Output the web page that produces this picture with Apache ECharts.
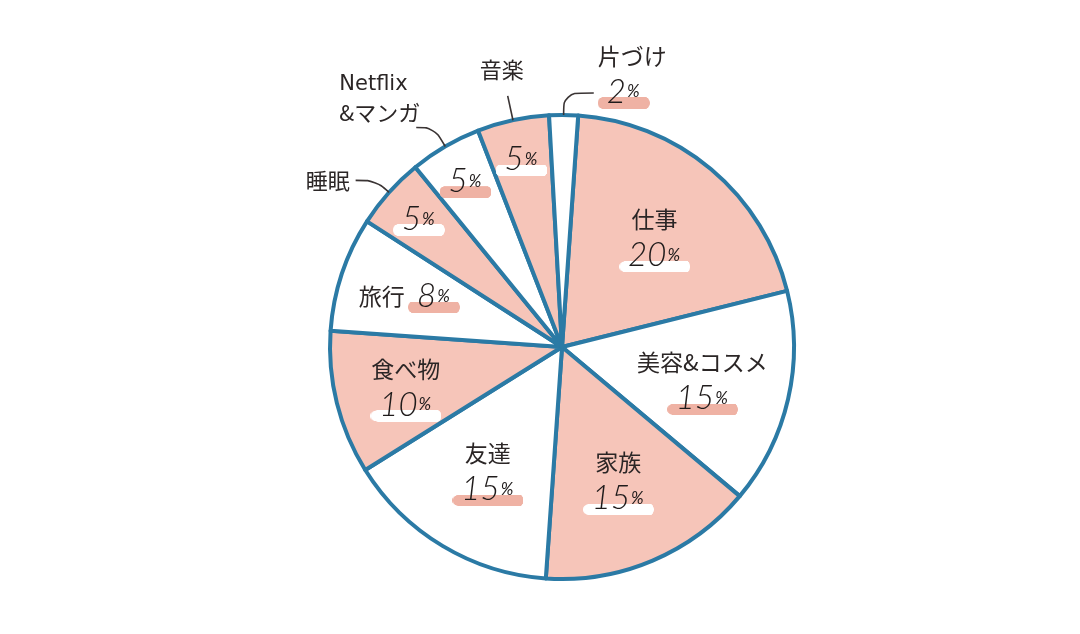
<!DOCTYPE html>
<html>
<head>
<meta charset="utf-8">
<script src="https://cdn.jsdelivr.net/npm/echarts@6/dist/echarts.min.js"></script>
<style>html,body{margin:0;padding:0;background:#fff}#chart{width:1080px;height:634px}</style>
</head>
<body>
<div id="chart"></div>
<script>
// ---- data ----
const categories = ['仕事', '美容&コスメ', '家族', '友達', '食べ物', '旅行', '睡眠', 'Netflix\n&マンガ', '音楽', '片づけ'];
const values = [20, 15, 15, 15, 10, 8, 5, 5, 5, 2];
const pinkSlices = ['仕事', '家族', '食べ物', '睡眠', '音楽'];
const bigInside = ['仕事', '美容&コスメ', '家族', '友達'];
const midInside = ['食べ物', '旅行'];
const smallInside = ['睡眠', 'Netflix\n&マンガ', '音楽'];

// ---- styles ----
const PINK = '#f6c5b9';
const BAR_PINK = '#efb2a4';
const BLUE = '#2b7aa5';
const INK = '#2b2626';
const JP = 'Noto Sans CJK JP';

// tall, narrow canvas so its aspect ratio never widens a text token
function barCanvas(color, side) {
  const c = document.createElement('canvas');
  c.width = 40; c.height = 340;
  const g = c.getContext('2d');
  g.fillStyle = color;
  const top = 224, h = 112, ry = h / 2, rx = 6;
  g.beginPath();
  if (side === 'l') {
    g.ellipse(rx, top + ry, rx, ry, 0, Math.PI / 2, Math.PI * 1.5);
    g.lineTo(40, top); g.lineTo(40, top + h); g.closePath();
  } else {
    g.ellipse(40 - rx, top + ry, rx, ry, 0, -Math.PI / 2, Math.PI / 2);
    g.lineTo(0, top + h); g.lineTo(0, top); g.closePath();
  }
  g.fill();
  return c;
}
const bars = {
  wl: barCanvas('#ffffff', 'l'), wr: barCanvas('#ffffff', 'r'),
  pl: barCanvas(BAR_PINK, 'l'), pr: barCanvas(BAR_PINK, 'r')
};
const numBase = { fontFamily: 'Lato', fontStyle: 'italic', fontWeight: 300, fontSize: 33, color: '#1f1b1b', height: 34 };
const pcBase = { fontFamily: 'Lato', fontStyle: 'italic', fontWeight: 400, fontSize: 17, color: '#1f1b1b', height: 34 };
const rich = {
  n: { fontFamily: JP, fontWeight: 400, fontSize: 23, color: INK, lineHeight: 38 },
  nl: { fontFamily: JP, fontWeight: 400, fontSize: 22, color: INK, lineHeight: 28, align: 'left' },
  en: { fontFamily: 'DejaVu Sans', fontWeight: 400, fontSize: 21, color: INK, lineHeight: 28, align: 'left' },
  pw: Object.assign({}, numBase, { padding: [0, 1, 0, 9], backgroundColor: { image: bars.wl } }),
  cw: Object.assign({}, pcBase, { padding: [0, 10, 0, 0], backgroundColor: { image: bars.wr } }),
  pp: Object.assign({}, numBase, { padding: [0, 1, 0, 9], backgroundColor: { image: bars.pl } }),
  cp: Object.assign({}, pcBase, { padding: [0, 10, 0, 0], backgroundColor: { image: bars.pr } })
};
function pct(name, v) {
  const pink = pinkSlices.includes(name);
  return pink ? `{pw|${v}}{cw|%}` : `{pp|${v}}{cp|%}`;
}

const center = [562, 347];
const R = 232;

const mainData = categories.map((c, i) => ({
  name: c, value: values[i],
  itemStyle: { color: pinkSlices.includes(c) ? PINK : '#ffffff' }
}));

function insideData(list) {
  return categories.map((c, i) => {
    const show = list.includes(c);
    let fmt = '';
    if (show) {
      if (c === '旅行') fmt = `{n|${c}} ${pct(c, values[i])}`;
      else if (smallInside.includes(c)) fmt = pct(c, values[i]);
      else fmt = `{n|${c}}\n${pct(c, values[i])}`;
    }
    return { name: c, value: values[i], label: { show: show, formatter: fmt } };
  });
}

const outsideCfg = {
  '片づけ': { len: 22, len2: 30, dist: 4, pad: [0, 0, 40, 0], fmt: (v) => `{n|片づけ}\n{pp|${v}}{cp|%}` },
  '音楽': { len: 25, len2: 0, dist: -16, pad: [0, 0, 52, 0], fmt: () => '{nl|音楽}' },
  'Netflix\n&マンガ': { len: 22, len2: 18, dist: -4, pad: [0, 0, 58, 0], fmt: () => '{en|Netflix}\n{nl|&マンガ}' },
  '睡眠': { len: 18, len2: 20, dist: 6, pad: [0, 0, 0, 0], fmt: () => '{nl|睡眠}' }
};
const outData = categories.map((c, i) => {
  const cfg = outsideCfg[c];
  if (!cfg) return { name: c, value: values[i], label: { show: false }, labelLine: { show: false } };
  return {
    name: c, value: values[i],
    label: { show: true, formatter: cfg.fmt(values[i]), distanceToLabelLine: cfg.dist, padding: cfg.pad },
    labelLine: { show: true, length: cfg.len, length2: cfg.len2 }
  };
});

const transparent = { color: 'rgba(0,0,0,0)', borderWidth: 0 };
function labelSeries(r0, data) {
  return {
    type: 'pie', center: center, radius: [r0, R], startAngle: 86, clockwise: true,
    silent: true, avoidLabelOverlap: false, itemStyle: transparent,
    label: { position: 'inside', color: INK, rich: rich, overflow: 'none' },
    labelLine: { show: false }, data: data, z: 3
  };
}
const chart = echarts.init(document.getElementById('chart'), null, { renderer: 'canvas' });
chart.setOption({
  backgroundColor: '#ffffff',
  animation: false,
  series: [
    {
      type: 'pie', center: center, radius: [0, R], startAngle: 86, clockwise: true,
      silent: true, avoidLabelOverlap: false,
      itemStyle: { borderColor: BLUE, borderWidth: 4, borderJoin: 'round' },
      label: { show: false }, labelLine: { show: false },
      data: mainData, z: 1
    },
    labelSeries(50, insideData(bigInside)),
    labelSeries(84, insideData(midInside)),
    labelSeries(146, insideData(smallInside)),
    {
      type: 'pie', center: center, radius: [0, R], startAngle: 86, clockwise: true,
      silent: true, avoidLabelOverlap: false, itemStyle: transparent,
      label: { position: 'outside', color: INK, rich: rich, alignTo: 'none' },
      labelLine: { smooth: 0.4, lineStyle: { color: '#3a3434', width: 1.6 } },
      data: outData, z: 3
    }
  ]
});
</script>
</body>
</html>
